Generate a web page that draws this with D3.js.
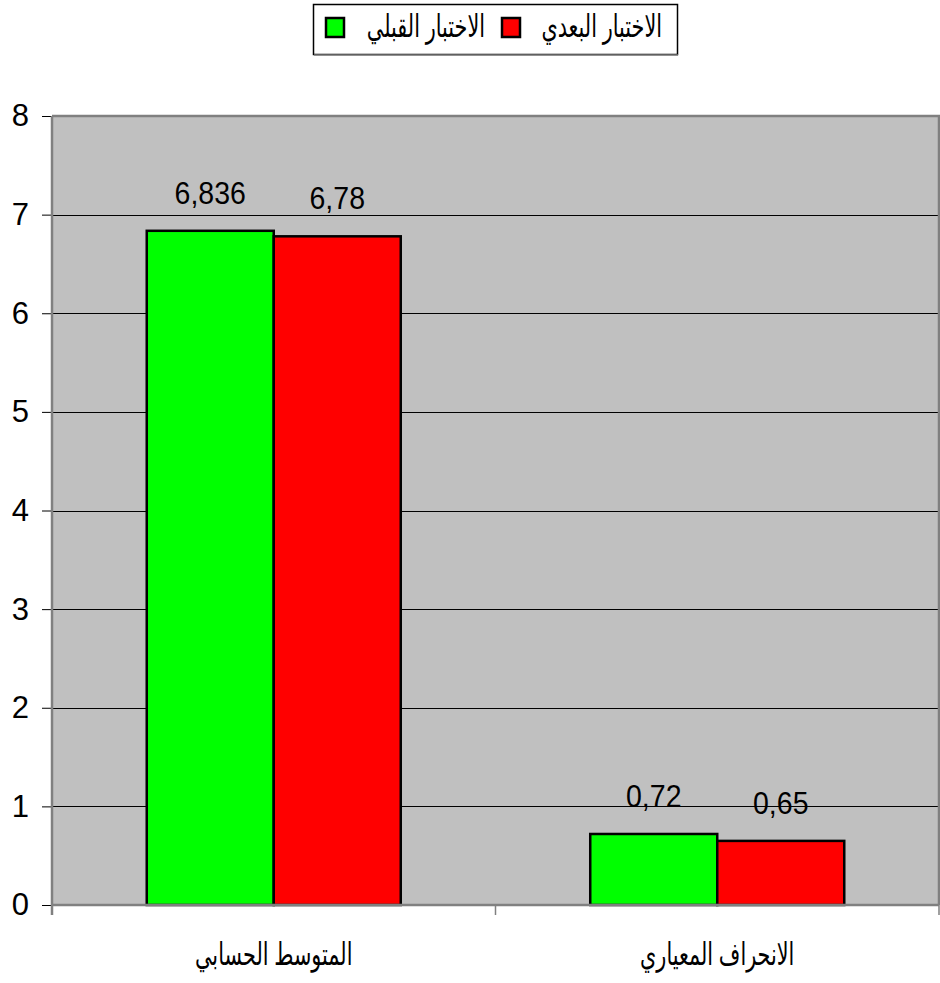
<!DOCTYPE html>
<html>
<head>
<meta charset="utf-8">
<script src="https://cdn.jsdelivr.net/npm/d3@7"></script>
<style>
  html, body { margin: 0; padding: 0; background: #fff; }
  svg { display: block; font-family: "Liberation Sans", Arial, "DejaVu Sans", sans-serif; }
</style>
</head>
<body>
<svg id="chart" width="940" height="983"></svg>
<script>
// Groups along the x axis and the two test series
const categories = ["المتوسط الحسابي", "الانحراف المعياري"];
const seriesNames = ["الاختبار القبلي", "الاختبار البعدي"];
const seriesColors = ["#00FF00", "#FF0000"];
const preTest = [6.836, 0.72];
const postTest = [6.78, 0.65];
const preLabels = ["6,836", "0,72"];
const postLabels = ["6,78", "0,65"];
const yTicks = [0, 1, 2, 3, 4, 5, 6, 7, 8];

const series = [
  { name: seriesNames[0], color: seriesColors[0], values: preTest, labels: preLabels },
  { name: seriesNames[1], color: seriesColors[1], values: postTest, labels: postLabels }
];

const svg = d3.select("#chart");
const plot = { left: 52, right: 939, top: 116, bottom: 905 };
// Arabic glyphs are drawn a bit narrower than the fallback font's natural width
const arabicSize = 31, arabicSquash = 0.67;
const valueSize = 31, valueSquash = 0.92;

const x0 = d3.scaleBand().domain(categories).range([plot.left, plot.right]).padding(0);
const x1 = d3.scaleBand().domain(seriesNames).range([0, x0.bandwidth()])
  .paddingInner(0).paddingOuter(0.746);
const y = d3.scaleLinear().domain([0, 8]).range([plot.bottom, plot.top]);

// Plot background
svg.append("rect")
  .attr("x", plot.left).attr("y", plot.top)
  .attr("width", plot.right - plot.left).attr("height", plot.bottom - plot.top)
  .attr("fill", "#C0C0C0");

// Horizontal gridlines
svg.append("g").selectAll("line")
  .data(yTicks.filter(t => t > 0 && t < 8))
  .join("line")
  .attr("x1", plot.left).attr("x2", plot.right)
  .attr("y1", d => Math.round(y(d)) + 0.5).attr("y2", d => Math.round(y(d)) + 0.5)
  .attr("stroke", "#000").attr("stroke-width", 1);

// Plot frame (top and right)
svg.append("path")
  .attr("d", `M${plot.left},${plot.top}H${plot.right}V${plot.bottom}`)
  .attr("fill", "none").attr("stroke", "#808080").attr("stroke-width", 2.5);

// Bars
const groups = svg.append("g").selectAll("g")
  .data(categories)
  .join("g")
  .attr("transform", d => `translate(${x0(d)},0)`);

groups.selectAll("rect")
  .data((c, i) => series.map(s => ({ s, v: s.values[i], label: s.labels[i] })))
  .join("rect")
  .attr("x", d => x1(d.s.name))
  .attr("y", d => y(d.v))
  .attr("width", x1.bandwidth())
  .attr("height", d => y(0) - y(d.v))
  .attr("fill", d => d.s.color)
  .attr("stroke", "#000").attr("stroke-width", 2.5);

// Value labels
groups.selectAll("text")
  .data((c, i) => series.map(s => ({ s, v: s.values[i], label: s.labels[i] })))
  .join("text")
  .attr("transform", d => `translate(${x1(d.s.name) + x1.bandwidth() / 2},${y(d.v) - 27}) scale(${valueSquash},1)`)
  .attr("text-anchor", "middle")
  .attr("font-size", valueSize)
  .attr("fill", "#000")
  .text(d => d.label);

// Y axis
const yAxis = svg.append("g")
  .attr("transform", `translate(${plot.left},0)`)
  .call(d3.axisLeft(y).tickValues(yTicks).tickSize(10).tickPadding(13).tickFormat(d3.format("d")));
yAxis.select(".domain").remove();
yAxis.selectAll(".tick line").attr("stroke", "#000").attr("stroke-width", 1);
yAxis.selectAll(".tick text")
  .attr("font-size", 31).attr("fill", "#000")
  .attr("font-family", "'Liberation Sans', Arial, sans-serif");
svg.append("line")
  .attr("x1", plot.left).attr("x2", plot.left)
  .attr("y1", plot.top).attr("y2", plot.bottom + 10)
  .attr("stroke", "#808080").attr("stroke-width", 2.5);

// X axis with category boundary ticks
const xAxis = svg.append("g");
xAxis.append("line")
  .attr("x1", plot.left).attr("x2", plot.right)
  .attr("y1", plot.bottom).attr("y2", plot.bottom)
  .attr("stroke", "#808080").attr("stroke-width", 2.5);
const boundaries = categories.map(c => x0(c)).concat([x0(categories[categories.length - 1]) + x0.bandwidth()]);
xAxis.selectAll("line.tick")
  .data(boundaries.slice(1))
  .join("line")
  .attr("class", "tick")
  .attr("x1", d => d).attr("x2", d => d)
  .attr("y1", plot.bottom).attr("y2", plot.bottom + 10)
  .attr("stroke", "#808080").attr("stroke-width", 1.5);
xAxis.selectAll("text")
  .data(categories)
  .join("text")
  .attr("transform", d => `translate(${x0(d) + x0.bandwidth() / 2},965) scale(${arabicSquash},1)`)
  .attr("text-anchor", "middle")
  .attr("direction", "rtl")
  .attr("font-size", arabicSize)
  .attr("fill", "#000")
  .text(d => d);

// Legend
const legend = svg.append("g");
legend.append("rect")
  .attr("x", 313.5).attr("y", 4.5).attr("width", 364).attr("height", 50)
  .attr("fill", "#fff").attr("stroke", "#000").attr("stroke-width", 1.5);
legend.append("line")
  .attr("x1", 314).attr("x2", 678).attr("y1", 55).attr("y2", 55)
  .attr("stroke", "#808080").attr("stroke-width", 1.5);
const legendItems = [
  { s: series[0], box: 326, textRight: 485 },
  { s: series[1], box: 502, textRight: 662 }
];
const li = legend.selectAll("g.item").data(legendItems).join("g").attr("class", "item");
li.append("rect")
  .attr("x", d => d.box).attr("y", 18).attr("width", 18).attr("height", 19)
  .attr("fill", d => d.s.color).attr("stroke", "#000").attr("stroke-width", 2.5);
li.append("text")
  .attr("transform", d => `translate(${d.textRight},37) scale(${arabicSquash},1)`)
  .attr("text-anchor", "end")
  .attr("font-size", arabicSize)
  .attr("fill", "#000")
  .text(d => d.s.name);
</script>
</body>
</html>
